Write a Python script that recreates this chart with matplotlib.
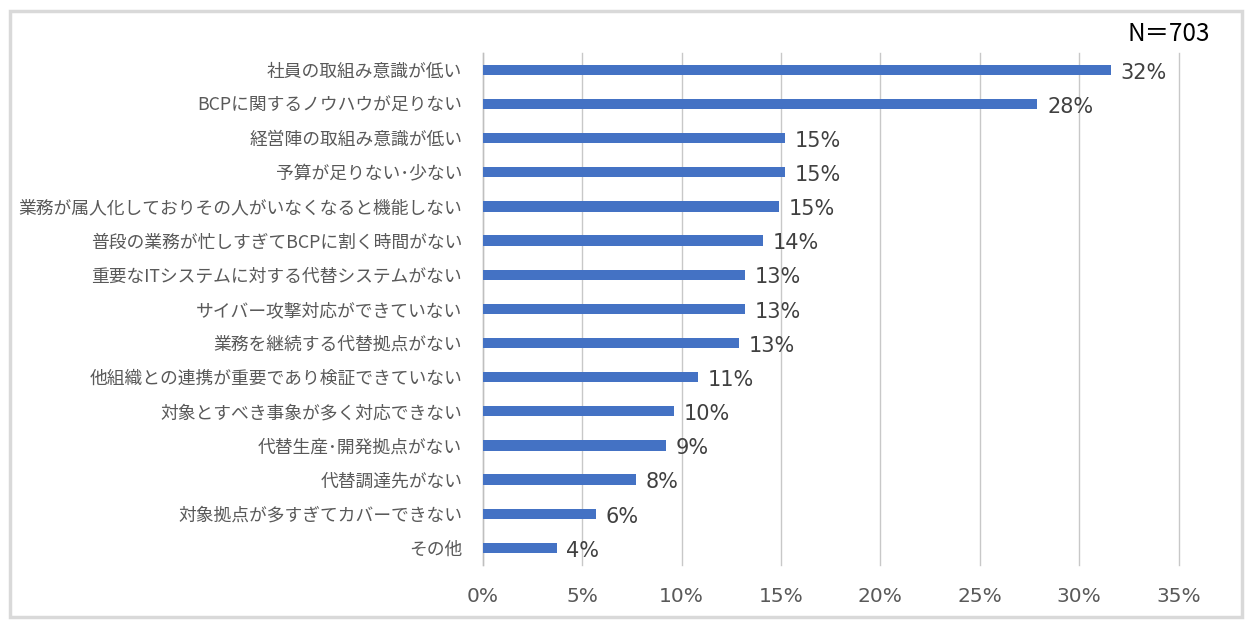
import matplotlib
matplotlib.use("Agg")
import matplotlib.pyplot as plt
from matplotlib.patches import Rectangle

categories = [
    "社員の取組み意識が低い",
    "BCPに関するノウハウが足りない",
    "経営陣の取組み意識が低い",
    "予算が足りない･少ない",
    "業務が属人化しておりその人がいなくなると機能しない",
    "普段の業務が忙しすぎてBCPに割く時間がない",
    "重要なITシステムに対する代替システムがない",
    "サイバー攻撃対応ができていない",
    "業務を継続する代替拠点がない",
    "他組織との連携が重要であり検証できていない",
    "対象とすべき事象が多く対応できない",
    "代替生産･開発拠点がない",
    "代替調達先がない",
    "対象拠点が多すぎてカバーできない",
    "その他",
]
values = [31.6, 27.9, 15.2, 15.2, 14.9, 14.1, 13.2, 13.2, 12.9, 10.8, 9.6, 9.2, 7.7, 5.7, 3.7]
xticks = [0, 5, 10, 15, 20, 25, 30, 35]
xtick_labels = [f"{t}%" for t in xticks]
note = "N＝703"

JP = ["Noto Sans CJK JP", "DejaVu Sans"]
plt.rcParams["font.family"] = JP

fig = plt.figure(figsize=(12.51, 6.28), dpi=100)
fig.patch.set_facecolor("white")
# outer frame
fig.patches.append(Rectangle((9.5 / 1251, 1 - 617 / 628), (1241.5 - 9.5) / 1251, (617 - 11) / 628,
                             transform=fig.transFigure, fill=False, edgecolor="#d9d9d9", linewidth=2.5))

ax = fig.add_axes([483 / 1251, 1 - 565 / 628, (1178.5 - 483) / 1251, (565 - 52.7) / 628])
y = list(range(len(categories)))
ax.barh(y, values, height=0.3, color="#4472C4", zorder=3)
ax.set_ylim(len(categories) - 0.5, -0.5)
ax.set_xlim(0, 35)
ax.set_xticks(xticks)
ax.set_xticklabels(xtick_labels, fontfamily="DejaVu Sans", fontsize=14.5, color="#595959")
ax.set_yticks(y)
ax.set_yticklabels(categories, fontsize=12.8, color="#595959")
ax.tick_params(axis="x", length=0, pad=16)
ax.tick_params(axis="y", length=0, pad=15)
ax.grid(axis="x", color="#c8c8c8", linewidth=1, zorder=0)
for gl in ax.get_xgridlines():
    gl.set_clip_on(False)
for s in ["top", "right", "bottom"]:
    ax.spines[s].set_visible(False)
ax.spines["left"].set_color("#bfbfbf")
ax.spines["left"].set_linewidth(1)

for yi, v in zip(y, values):
    ax.annotate(f"{v:.0f}%", xy=(v, yi), xytext=(7, -2), textcoords="offset points",
                ha="left", va="center", fontsize=15, color="#404040", fontfamily="DejaVu Sans")

fig.text(1210 / 1251, 1 - 34 / 628, note, ha="right", va="center", fontsize=17.5, color="#000000")

fig.savefig("out.png", dpi=100, facecolor="white")
